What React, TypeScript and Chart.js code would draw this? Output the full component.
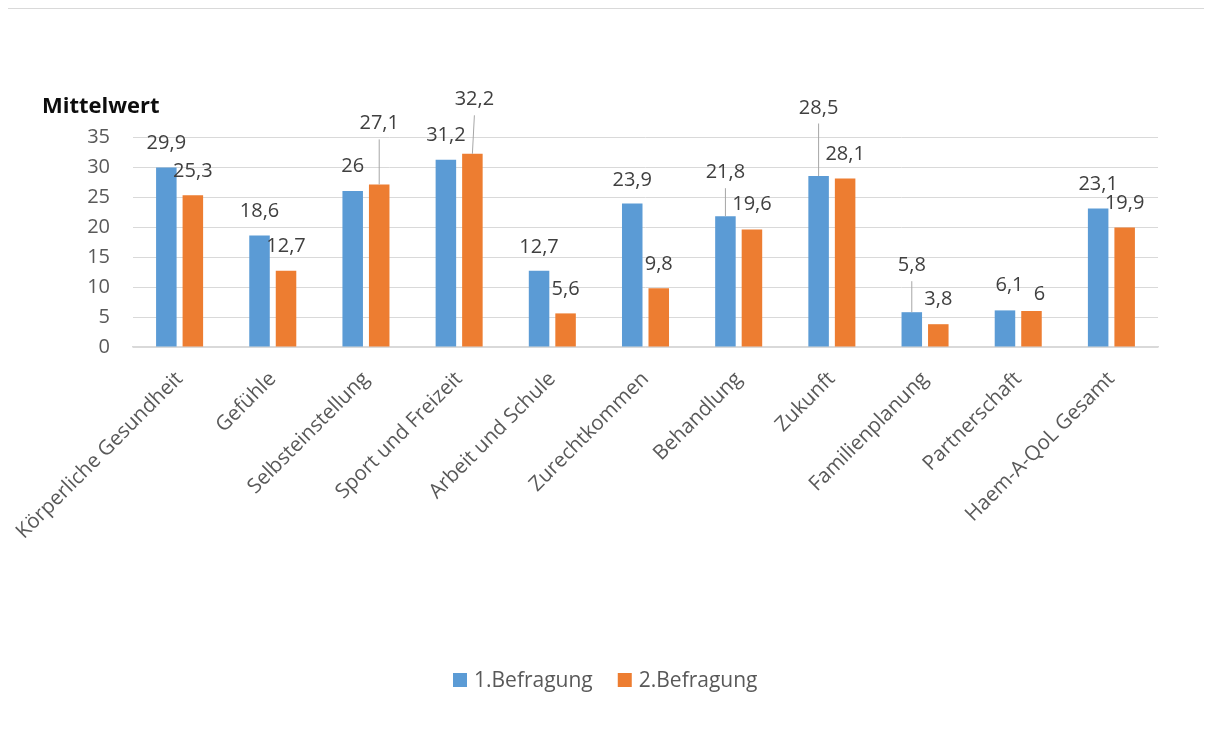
import React, { useEffect, useRef } from "react";
import { Chart, registerables } from "chart.js";

Chart.register(...registerables);

const categories = [
  "Körperliche Gesundheit",
  "Gefühle",
  "Selbsteinstellung",
  "Sport und Freizeit",
  "Arbeit und Schule",
  "Zurechtkommen",
  "Behandlung",
  "Zukunft",
  "Familienplanung",
  "Partnerschaft",
  "Haem-A-QoL Gesamt",
];
const befragung1 = [29.9, 18.6, 26, 31.2, 12.7, 23.9, 21.8, 28.5, 5.8, 6.1, 23.1];
const befragung2 = [25.3, 12.7, 27.1, 32.2, 5.6, 9.8, 19.6, 28.1, 3.8, 6, 19.9];
const seriesNames = ["1.Befragung", "2.Befragung"];
const seriesColors = ["#5B9BD5", "#ED7D31"];
const yMin = 0;
const yMax = 35;
const yStep = 5;
const axisTitle = "Mittelwert";

// label placement nudges (px), as manually arranged in the original
const labelRise = [
  [25, 24, 25, 24.5, 24, 24, 44, 68.5, 47, 25, 24],
  [24, 25, 61, 54.5, 24, 24.5, 25.5, 24, 25, 17, 24.5],
];
const labelShift = [
  [0, 0, 0, 0, 0, 0, 0, 0, 0, 4.5, 0],
  [0, 0, 0, 2, 0, 0, 0, 0, 0, 8, 0],
];

const FONT = '"Open Sans", "DejaVu Sans", sans-serif';
const fmt = (v: number) => String(v).replace(".", ",");

const W = 1200;
const H = 735;
const AREA_LEFT = 125;
const AREA_RIGHT = 1150;
const AREA_TOP = 128;
const AREA_BOTTOM = 338;

const overlayPlugin = {
  id: "overlay",
  afterDatasetsDraw(chart: any) {
    const ctx = chart.ctx as CanvasRenderingContext2D;
    ctx.save();
    // data labels
    ctx.font = `20px ${FONT}`;
    ctx.textAlign = "center";
    ctx.textBaseline = "alphabetic";
    chart.data.datasets.forEach((ds: any, di: number) => {
      const meta = chart.getDatasetMeta(di);
      meta.data.forEach((bar: any, i: number) => {
        const lx = bar.x + labelShift[di][i];
        const cy = bar.y - labelRise[di][i];
        if (labelRise[di][i] > 40) {
          ctx.strokeStyle = "#a6a6a6";
          ctx.lineWidth = 1;
          ctx.beginPath();
          ctx.moveTo(lx, cy + 16);
          ctx.lineTo(bar.x, bar.y);
          ctx.stroke();
        }
        ctx.fillStyle = "#404040";
        ctx.fillText(fmt(ds.data[i]), lx, cy + 6);
      });
    });
    // axis title
    ctx.font = `bold 22px ${FONT}`;
    ctx.fillStyle = "#0d0d0d";
    ctx.textAlign = "left";
    ctx.fillText(axisTitle, 34, 104);
    // legend
    ctx.font = `21px ${FONT}`;
    let x = 445;
    const boxY = 664;
    seriesNames.forEach((name, i) => {
      ctx.fillStyle = seriesColors[i];
      ctx.fillRect(x, boxY, 14, 14);
      ctx.fillStyle = "#595959";
      ctx.fillText(name, x + 21, 678);
      x += 21 + ctx.measureText(name).width + 25;
    });
    ctx.restore();
  },
};

export default function App() {
  const ref = useRef<HTMLCanvasElement | null>(null);
  useEffect(() => {
    if (!ref.current) return;
    const chart = new Chart(ref.current, {
      type: "bar",
      data: {
        labels: categories,
        datasets: [
          {
            label: seriesNames[0],
            data: befragung1,
            backgroundColor: seriesColors[0],
            categoryPercentage: 0.569,
            barPercentage: 0.774,
          },
          {
            label: seriesNames[1],
            data: befragung2,
            backgroundColor: seriesColors[1],
            categoryPercentage: 0.569,
            barPercentage: 0.774,
          },
        ],
      },
      options: {
        responsive: false,
        animation: false,
        devicePixelRatio: 1,
        layout: { padding: { left: 0, top: AREA_TOP, right: W - AREA_RIGHT, bottom: 0 } },
        plugins: {
          legend: { display: false },
          title: { display: false },
          tooltip: { enabled: false },
        },
        scales: {
          x: {
            grid: { display: false, drawTicks: false },
            border: { display: true, color: "#d9d9d9", width: 1.5 },
            ticks: {
              autoSkip: false,
              maxRotation: 45,
              minRotation: 45,
              padding: 20,
              labelOffset: 0,
              color: "#595959",
              font: { family: FONT, size: 20.5 },
            },
            afterFit: (s: any) => {
              s.height = H - AREA_BOTTOM;
              s.paddingLeft = 0;
              s.paddingRight = 0;
            },
          },
          y: {
            min: yMin,
            max: yMax,
            grid: { color: "#d9d9d9", drawTicks: false, lineWidth: 1 },
            border: { display: false },
            ticks: {
              stepSize: yStep,
              padding: 23,
              color: "#595959",
              font: { family: FONT, size: 20 },
            },
            afterFit: (s: any) => {
              s.width = AREA_LEFT;
              s.paddingTop = 0;
              s.paddingBottom = 0;
            },
          },
        },
      },
      plugins: [overlayPlugin],
    });
    return () => chart.destroy();
  }, []);
  return (
    <div
      style={{
        marginLeft: -2,
        borderLeft: "2px solid #d9d9d9",
        borderTop: "1px solid #d9d9d9",
        width: W,
        height: H,
      }}
    >
      <canvas ref={ref} width={W} height={H} style={{ display: "block" }} />
    </div>
  );
}
